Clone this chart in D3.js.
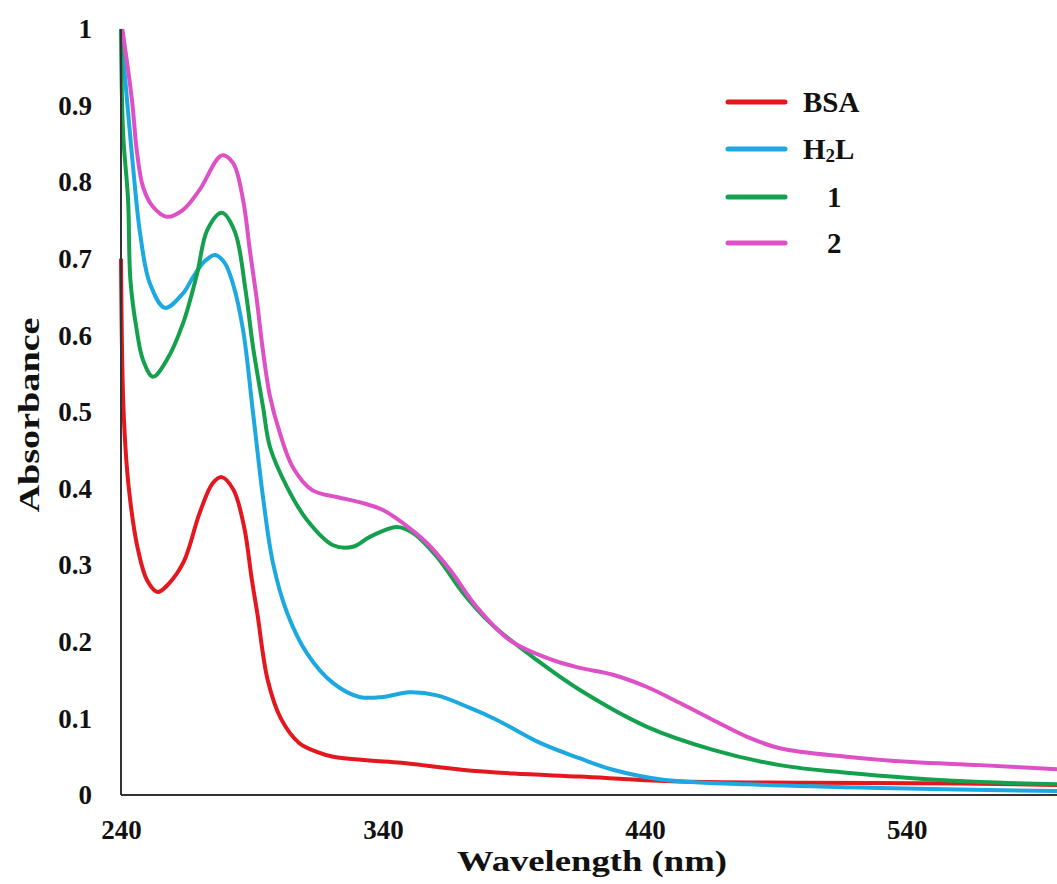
<!DOCTYPE html>
<html>
<head>
<meta charset="utf-8">
<script src="https://cdn.jsdelivr.net/npm/d3@7"></script>
<style>
  body { margin: 0; background: #fff; }
  svg text { font-family: "Liberation Serif", "Times New Roman", serif; font-weight: bold; fill: #111; }
</style>
</head>
<body>
<svg id="chart" width="1057" height="884"></svg>
<script>
// values: [wavelength nm, absorbance]
const bsa = [[240,0.70],[241,0.50],[243,0.40],[246.5,0.32],[250,0.28],[254,0.265],[258,0.275],[264,0.305],
  [270,0.368],[275,0.407],[278.5,0.415],[283,0.398],[287,0.35],[290,0.28],[292,0.238],[296,0.15],[301,0.10],
  [308,0.068],[315,0.056],[321,0.05],[335,0.045],[347,0.042],[370,0.033],[390,0.028],[415,0.024],[450,0.018],
  [500,0.016],[560,0.015],[600,0.013]];
const h2l = [[240,1.0],[242.3,0.907],[244.6,0.82],[247.3,0.733],[251,0.668],[256.8,0.636],[263.7,0.655],
  [267.5,0.676],[272,0.697],[275.9,0.705],[279.5,0.695],[282.7,0.668],[286.6,0.607],[290.4,0.499],[294.2,0.389],
  [298,0.303],[303.4,0.238],[311,0.185],[321,0.146],[331,0.128],[340,0.128],[350,0.134],[360.6,0.13],
  [373,0.114],[383.5,0.098],[400,0.068],[415,0.048],[427.8,0.033],[446.9,0.02],[479,0.014],[529.7,0.009],[600,0.005]];
const comp1 = [[240,1.0],[240.8,0.864],[242.7,0.777],[243.6,0.672],[246,0.607],[248.4,0.568],[252.2,0.546],
  [257.5,0.568],[263.7,0.616],[269,0.68],[273,0.738],[278.5,0.76],[283.5,0.735],[287.5,0.66],[290.4,0.585],
  [294.2,0.507],[296.9,0.454],[303.4,0.402],[311,0.359],[321,0.326],[328.5,0.324],[335,0.337],[345.3,0.35],
  [351.5,0.342],[360.6,0.311],[370.5,0.264],[380.8,0.225],[398.8,0.176],[415.2,0.137],[440.8,0.089],
  [466,0.059],[491.5,0.039],[517,0.029],[542.3,0.022],[568,0.017],[600,0.014]];
const comp2 = [[240.5,1.0],[244.2,0.907],[246,0.842],[248.4,0.794],[252.2,0.768],[257.5,0.755],[263.7,0.764],
  [270,0.79],[278.5,0.835],[282.8,0.825],[286.6,0.777],[289.2,0.711],[291.9,0.645],[294,0.585],[296.9,0.52],
  [300.7,0.472],[305.6,0.428],[313,0.398],[322.4,0.389],[332.4,0.381],[340,0.372],[347.6,0.355],[356.8,0.329],
  [365.6,0.294],[375.9,0.245],[388.5,0.202],[405,0.176],[415.2,0.166],[427.8,0.157],[440.8,0.141],
  [453.4,0.12],[466,0.098],[479,0.076],[491.5,0.061],[517,0.05],[542,0.043],[568,0.039],[600,0.033]];

const seriesNames = ["BSA", "H2L", "1", "2"];
const seriesColors = ["#e3171d", "#1ca8e0", "#14a04c", "#de50c6"];
const seriesData = [bsa, h2l, comp1, comp2];

const xTicks = [240, 340, 440, 540];
const yTicks = [0, 0.1, 0.2, 0.3, 0.4, 0.5, 0.6, 0.7, 0.8, 0.9, 1];

const svg = d3.select("#chart");

const x = d3.scaleLinear().domain([240, 600]).range([121, 1064]);
const y = d3.scaleLinear().domain([0, 1]).range([795, 29]);

// curves
const line = d3.line()
  .x(d => x(d[0]))
  .y(d => y(d[1]))
  .curve(d3.curveCatmullRom.alpha(0.5));

svg.selectAll("path.curve")
  .data(seriesData)
  .enter()
  .append("path")
  .attr("class", "curve")
  .attr("d", d => line(d))
  .attr("fill", "none")
  .attr("stroke", (d, i) => seriesColors[i])
  .attr("stroke-width", 4)
  .attr("stroke-linejoin", "round");

// axes (no tick marks, just the lines and labels)
const yAxis = svg.append("g")
  .attr("transform", "translate(121,0)")
  .call(d3.axisLeft(y).tickValues(yTicks).tickSize(0).tickPadding(29).tickFormat(d3.format("")));
const xAxis = svg.append("g")
  .attr("transform", "translate(0,795)")
  .call(d3.axisBottom(x).tickValues(xTicks).tickSize(0).tickPadding(25));

[xAxis, yAxis].forEach(g => {
  g.select(".domain").attr("stroke", "#333").attr("stroke-width", 2);
  g.selectAll("text")
    .attr("font-family", "Liberation Serif, Times New Roman, serif")
    .attr("font-weight", "bold")
    .attr("font-size", 27)
    .attr("fill", "#111");
});
yAxis.select(".domain").attr("d", "M0,795V29");
xAxis.select(".domain").attr("d", "M121,0H1064");

// axis titles
svg.append("text")
  .attr("x", 592)
  .attr("y", 871)
  .attr("text-anchor", "middle")
  .attr("font-size", 29)
  .attr("textLength", 270)
  .attr("lengthAdjust", "spacingAndGlyphs")
  .text("Wavelength (nm)");

svg.append("text")
  .attr("transform", "translate(39,415) rotate(-90)")
  .attr("text-anchor", "middle")
  .attr("font-size", 30)
  .attr("textLength", 195)
  .attr("lengthAdjust", "spacingAndGlyphs")
  .text("Absorbance");

// legend
const legendY = [102, 149, 197, 243];
const legend = svg.selectAll("g.legend")
  .data(seriesNames)
  .enter()
  .append("g")
  .attr("class", "legend")
  .attr("transform", (d, i) => `translate(0,${legendY[i]})`);

legend.append("line")
  .attr("x1", 728).attr("x2", 785)
  .attr("y1", 0).attr("y2", 0)
  .attr("stroke", (d, i) => seriesColors[i])
  .attr("stroke-width", 5)
  .attr("stroke-linecap", "round");

legend.append("text")
  .attr("x", (d, i) => i < 2 ? 803 : 827)
  .attr("y", 10)
  .attr("font-size", 29)
  .each(function(d) {
    const t = d3.select(this);
    if (d === "H2L") {
      t.append("tspan").text("H");
      t.append("tspan").attr("font-size", 19).attr("dy", 3).text("2");
      t.append("tspan").attr("dy", -3).text("L");
    } else {
      t.text(d);
    }
  });
</script>
</body>
</html>
